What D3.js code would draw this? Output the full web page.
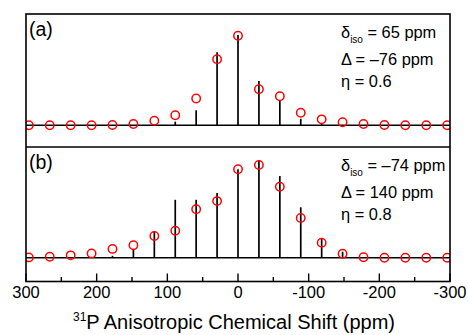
<!DOCTYPE html>
<html>
<head>
<meta charset="utf-8">
<script src="https://cdn.jsdelivr.net/npm/d3@7"></script>
<style>
  html, body { margin: 0; padding: 0; background: #fff; }
  svg { display: block; font-family: 'Liberation Sans', Arial, sans-serif; }
</style>
</head>
<body>
<svg id="chart" width="468" height="335"></svg>
<script>
// sideband positions (ppm), shared by both panels
const shiftPPM = [296, 266.4, 236.8, 207.2, 177.6, 148, 118.4, 88.8, 59.2, 29.6, 0,
  -29.6, -59.2, -88.8, -118.4, -148, -177.6, -207.2, -236.8, -266.4, -296];

// panel (a): experimental sticks and simulated intensities (circles)
const stickA = [0, 0, 0, 0, 0, 0, 0, 0.037, 0.153, 0.746, 0.923,
  0.453, 0.259, 0.067, 0.013, 0, 0, 0, 0, 0, 0];
const fitA = [0, 0, 0, 0, 0.003, 0.013, 0.047, 0.102, 0.274, 0.675, 0.916,
  0.368, 0.297, 0.129, 0.061, 0.031, 0.013, 0.003, 0, 0, 0];

// panel (b)
const stickB = [0, 0, 0, 0, 0.02, 0.092, 0.27, 0.593, 0.593, 0.662, 0.905,
  0.998, 0.836, 0.516, 0.196, 0.062, 0, 0, 0, 0, 0];
const fitB = [0.004, 0.01, 0.025, 0.045, 0.091, 0.128, 0.223, 0.277, 0.496, 0.58, 0.905,
  0.95, 0.726, 0.408, 0.155, 0.041, 0.005, 0, 0, 0, 0];

const labels = ['(a)', '(b)'];
const paramsA = [['δ', 'iso', ' = 65 ppm'], ['Δ', '', ' = –76 ppm'], ['η', '', ' = 0.6']];
const paramsB = [['δ', 'iso', ' = –74 ppm'], ['Δ', '', ' = 140 ppm'], ['η', '', ' = 0.8']];

const xTicks = [300, 250, 200, 150, 100, 50, 0, -50, -100, -150, -200, -250, -300];
const xTickLabels = [300, 200, 100, 0, -100, -200, -300];

const svg = d3.select('#chart');
const left = 26, right = 450;
const x = d3.scaleLinear().domain([300, -300]).range([left, right]);

const panels = [
  { top: 14, bottom: 147, base: 125.3, sticks: stickA, fit: fitA, label: labels[0], params: paramsA },
  { top: 147, bottom: 281.5, base: 257.8, sticks: stickB, fit: fitB, label: labels[1], params: paramsB }
];

svg.append('defs').append('clipPath')
  .attr('id', 'plotClip')
  .append('rect')
  .attr('x', left).attr('y', 0)
  .attr('width', right - left).attr('height', 335);

panels.forEach(p => {
  const y = d3.scaleLinear().domain([0, 1]).range([p.base, p.base - 97.8]);
  const g = svg.append('g').attr('clip-path', 'url(#plotClip)');

  // baseline
  g.append('line')
    .attr('x1', left).attr('x2', right)
    .attr('y1', y(0)).attr('y2', y(0))
    .attr('stroke', '#000').attr('stroke-width', 1.5);

  // sticks
  g.selectAll('line.stick')
    .data(shiftPPM.map((s, i) => ({ s, v: p.sticks[i] })).filter(d => d.v > 0))
    .enter().append('line')
    .attr('class', 'stick')
    .attr('x1', d => x(d.s)).attr('x2', d => x(d.s))
    .attr('y1', y(0)).attr('y2', d => y(d.v))
    .attr('stroke', '#000').attr('stroke-width', 1.7);

  // fitted intensities
  g.selectAll('circle')
    .data(shiftPPM.map((s, i) => ({ s, v: p.fit[i] })))
    .enter().append('circle')
    .attr('cx', d => x(d.s)).attr('cy', d => y(d.v))
    .attr('r', 4.2)
    .attr('fill', 'none')
    .attr('stroke', '#ff0000').attr('stroke-width', 1.5);

  svg.append('text')
    .attr('x', 29).attr('y', p.top + 21.5)
    .attr('font-size', 19.5)
    .text(p.label);

  p.params.forEach((row, i) => {
    const t = svg.append('text')
      .attr('x', 341).attr('y', p.top + [23.5, 50.7, 72.8][i])
      .attr('font-size', 16.4);
    t.append('tspan').text(row[0]);
    if (row[1]) {
      t.append('tspan').attr('font-size', 10).attr('dy', 5.5).text(row[1]);
      t.append('tspan').attr('dy', -5.5).text(row[2]);
    } else {
      t.append('tspan').text(row[2]);
    }
  });
});

// frames
svg.append('rect')
  .attr('x', left).attr('y', panels[0].top)
  .attr('width', right - left).attr('height', panels[1].bottom - panels[0].top)
  .attr('fill', 'none').attr('stroke', '#000').attr('stroke-width', 1.6);
svg.append('line')
  .attr('x1', left).attr('x2', right)
  .attr('y1', panels[1].top).attr('y2', panels[1].top)
  .attr('stroke', '#000').attr('stroke-width', 1.6);

// bottom axis with inward ticks
const axis = svg.append('g').attr('transform', `translate(0,${panels[1].bottom})`);
axis.selectAll('line')
  .data(xTicks)
  .enter().append('line')
  .attr('x1', d => x(d)).attr('x2', d => x(d))
  .attr('y1', 0).attr('y2', d => d % 100 === 0 ? -8 : -4.5)
  .attr('stroke', '#000').attr('stroke-width', 1.4);
axis.selectAll('text')
  .data(xTickLabels)
  .enter().append('text')
  .attr('x', d => x(d)).attr('y', 16)
  .attr('text-anchor', 'middle')
  .attr('font-size', 16.5)
  .text(d => d);

const title = svg.append('text')
  .attr('x', 234).attr('y', 329)
  .attr('text-anchor', 'middle')
  .attr('font-size', 20);
title.append('tspan').attr('font-size', 12).attr('dy', -8).text('31');
title.append('tspan').attr('dy', 8).text('P Anisotropic Chemical Shift (ppm)');
</script>
</body>
</html>
